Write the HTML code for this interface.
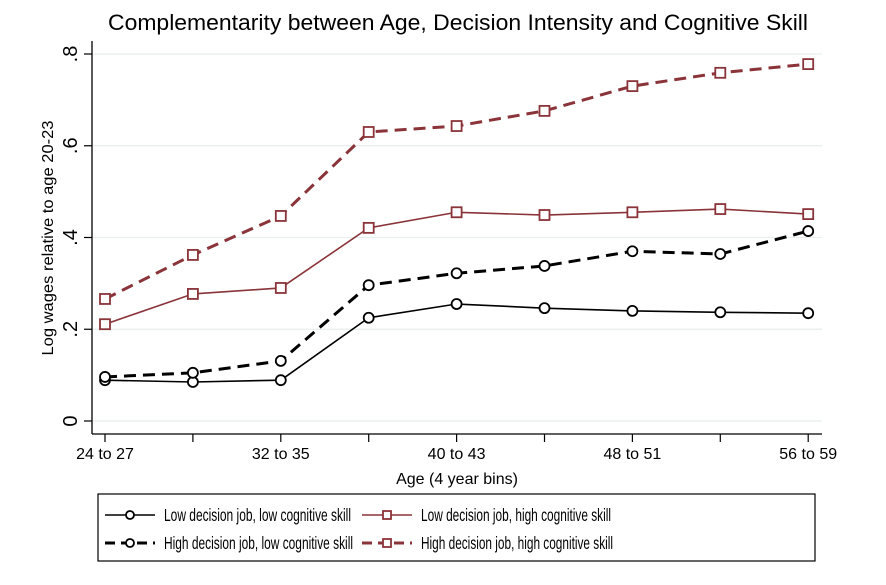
<!DOCTYPE html>
<html><head><meta charset="utf-8"><style>
body{margin:0;background:#fff;}
svg{display:block;font-family:"Liberation Sans",Arial,sans-serif;}
</style></head><body>
<svg id="chart" width="886" height="585" viewBox="0 0 886 585">
<rect x="0" y="0" width="886" height="585" fill="#fff"/>
<text x="458" y="30" font-size="22" text-anchor="middle" textLength="700" lengthAdjust="spacingAndGlyphs" fill="#000">Complementarity between Age, Decision Intensity and Cognitive Skill</text>
<g id="grid"></g>
<line x1="92" y1="41" x2="92" y2="434" stroke="#000" stroke-width="1.3"/>
<line x1="92" y1="434" x2="822" y2="434" stroke="#000" stroke-width="1.3"/>
<g id="yticks"></g>
<g id="xticks"></g>
<text transform="translate(53,238) rotate(-90)" font-size="16" text-anchor="middle" textLength="235" lengthAdjust="spacingAndGlyphs">Log wages relative to age 20-23</text>
<text x="457" y="484" font-size="16" text-anchor="middle">Age (4 year bins)</text>
<g id="series"></g>
<g>
<rect x="98" y="494" width="717" height="67" fill="none" stroke="#000" stroke-width="1.2"/>
<g id="legend"></g>
</g>
</svg>
<script>
const categories=["24 to 27","28 to 31","32 to 35","36 to 39","40 to 43","44 to 47","48 to 51","52 to 55","56 to 59"];
const lowDecLowCog=[0.089,0.085,0.089,0.225,0.255,0.246,0.240,0.237,0.235];
const highDecLowCog=[0.096,0.105,0.131,0.296,0.322,0.338,0.370,0.364,0.414];
const lowDecHighCog=[0.211,0.277,0.290,0.421,0.455,0.449,0.455,0.462,0.451];
const highDecHighCog=[0.266,0.362,0.447,0.630,0.643,0.676,0.730,0.759,0.778];
const yTicks=[0,0.2,0.4,0.6,0.8];
const yTickLabels=["0",".2",".4",".6",".8"];
const xLabelIdx=[0,2,4,6,8];
const seriesNames=["Low decision job, low cognitive skill","Low decision job, high cognitive skill","High decision job, low cognitive skill","High decision job, high cognitive skill"];

const NS="http://www.w3.org/2000/svg";
function xs(i){return 105+i*87.9;}
function ys(v){return 421-v*458.75;}
function mk(tag,attrs,parent){const e=document.createElementNS(NS,tag);for(const k in attrs)e.setAttribute(k,attrs[k]);parent.appendChild(e);return e;}
const grid=document.getElementById('grid'),yt=document.getElementById('yticks'),xt=document.getElementById('xticks'),sg=document.getElementById('series'),lg=document.getElementById('legend');
yTicks.forEach((v,i)=>{
  const g=mk('line',{x1:93,x2:822,y1:ys(v),y2:ys(v),stroke:'#e6eeee','stroke-width':1.3},grid);
  
  
  const t=mk('line',{x1:84,x2:92,y1:ys(v),y2:ys(v),stroke:'#000','stroke-width':1.2},yt);
  
  
  const l=mk('text',{transform:`translate(77,${ys(v)}) rotate(-90)`,'font-size':20,'text-anchor':'middle'},yt);
  
  
  l.textContent=yTickLabels[i];
});
categories.forEach((c,i)=>{
  const t=mk('line',{x1:xs(i),x2:xs(i),y1:434,y2:442,stroke:'#000','stroke-width':1.2},xt);
  
  
  if(xLabelIdx.includes(i)){
    const l=mk('text',{x:xs(i),y:459,'font-size':16,'text-anchor':'middle'},xt);
    
    
    l.textContent=c;
  }
});
const maroon='#8a3439';
const defs=[
 {d:lowDecLowCog,c:'#000',w:1.6,dash:'',m:'circle'},
 {d:lowDecHighCog,c:maroon,w:1.6,dash:'',m:'square'},
 {d:highDecLowCog,c:'#000',w:3,dash:'12 7',m:'circle'},
 {d:highDecHighCog,c:maroon,w:3,dash:'12 7',m:'square'}
];
function marker(m,x,y,c,parent,r){
  let e;
  if(m==='circle')e=mk('circle',{cx:x,cy:y,r:r,fill:'#fff',stroke:c,'stroke-width':1.8},parent);
  else e=mk('rect',{x:x-r,y:y-r,width:2*r,height:2*r,fill:'#fff',stroke:c,'stroke-width':1.8},parent);
  return e;
}
const legendTextLen=[187,190,189,192];
defs.forEach((s,k)=>{
  const g=mk('g',{},sg);
  
  
  const p=mk('polyline',{points:s.d.map((v,i)=>xs(i)+','+ys(v)).join(' '),fill:'none',stroke:s.c,'stroke-width':s.w,'stroke-dasharray':s.dash},g);
  
  
  s.d.forEach((v,i)=>{
    const e=marker(s.m,xs(i),ys(v),s.c,g,5);
    
    
  });
  const col=k%2,row=Math.floor(k/2);
  const lx=col?362:105,ly=row?543:515;
  const le=mk('g',{},lg);
  
  
  mk('line',{x1:lx,x2:lx+50,y1:ly,y2:ly,stroke:s.c,'stroke-width':s.w,'stroke-dasharray':s.dash?'10 6':''},le);
  marker(s.m,lx+25,ly,s.c,le,4);
  const t=mk('text',{x:lx+59,y:ly+6,'font-size':17.5,textLength:legendTextLen[k],lengthAdjust:'spacingAndGlyphs'},le);
  t.textContent=seriesNames[k];
});
</script>
</body></html>
